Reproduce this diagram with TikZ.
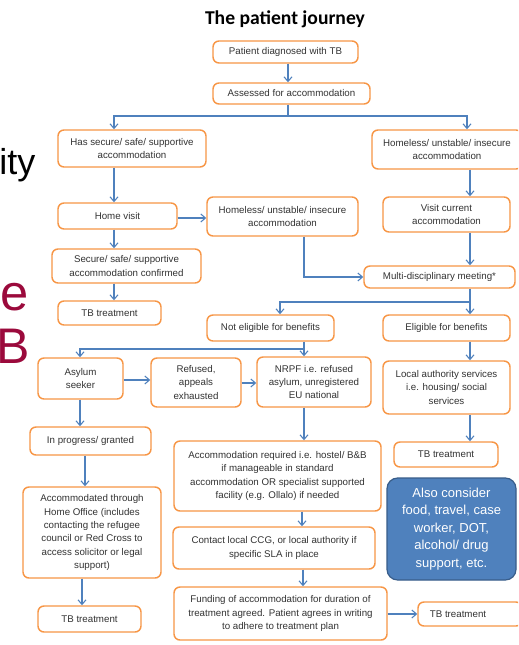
\documentclass[tikz,border=0pt]{standalone}
\usepackage{fontspec}
\setmainfont{Liberation Sans}
\newfontfamily\titlefont{Carlito}
\usetikzlibrary{arrows.meta}
\definecolor{orng}{HTML}{F79646}
\definecolor{lnblue}{HTML}{4F81BD}
\definecolor{bxblue}{HTML}{4F81BD}
\definecolor{bxedge}{HTML}{385D8A}
\definecolor{slidered}{RGB}{155,10,60}
\def\u{0.75pt}
\begin{document}
\begin{tikzpicture}[x=0.75pt,y=-0.75pt,
  box/.style={draw=orng, line width=1.1pt, rounded corners=4.5pt, fill=white, align=center, inner sep=0pt, font=\fontsize{7.3}{10}\selectfont, text=black!80},
  note/.style={draw=bxedge, fill=bxblue, line width=0.9pt, rounded corners=8pt, align=center, inner sep=0pt, font=\fontsize{9.75}{13.1}\selectfont, text=white},
  arr/.style={draw=lnblue, line width=0.8pt, -{Straight Barb[length=3.5pt,width=6pt]}},
  ln/.style={draw=lnblue, line width=0.8pt},
  slide/.style={anchor=base west, inner sep=0pt}]
\fill[white] (0,0) rectangle (518,645);
\useasboundingbox (0,0) rectangle (518,645);
\clip (0,0) rectangle (518,645);

% slide text behind
\node[slide, font=\fontsize{27}{30}\selectfont] (sl1) at (-1,175) {ity};
\node[slide, font=\fontsize{38}{40}\selectfont, text=slidered] (sl2) at (0,310) {e};
\node[slide, font=\fontsize{37.5}{40}\selectfont, text=slidered] (sl3) at (-3.5,363) {B};

% title
\node[anchor=base, font=\titlefont\bfseries\fontsize{14.7}{17}\selectfont] (title) at (285,25) {The patient journey};

% boxes
\node[box, minimum width=145*\u, minimum height=22*\u] (diag) at (285.5,52) {Patient diagnosed with TB};
\node[box, minimum width=157*\u, minimum height=21*\u] (assess) at (291.5,93.5) {Assessed for accommodation};
\node[box, minimum width=148*\u, minimum height=37*\u] (hassec) at (132,148.5) {Has secure/ safe/ supportive\\accommodation};
\node[box, minimum width=150*\u, minimum height=39*\u] (homeR) at (447,149.5) {Homeless/ unstable/ insecure\\accommodation};
\node[box, minimum width=119*\u, minimum height=26*\u] (homevisit) at (117.5,216) {Home visit};
\node[box, minimum width=151*\u, minimum height=39*\u] (homeM) at (282.5,216.5) {Homeless/ unstable/ insecure\\accommodation};
\node[box, minimum width=127*\u, minimum height=35*\u] (visit) at (446.5,214.5) {Visit current\\accommodation};
\node[box, minimum width=149*\u, minimum height=34*\u] (confirmed) at (126.5,266) {Secure/ safe/ supportive\\accommodation confirmed};
\node[box, minimum width=103*\u, minimum height=24*\u] (tbA) at (109.5,313) {TB treatment};
\node[box, minimum width=151*\u, minimum height=22*\u] (mdm) at (439.5,277) {Multi-disciplinary meeting*};
\node[box, minimum width=127*\u, minimum height=26*\u] (noteli) at (270.5,328) {Not eligible for benefits};
\node[box, minimum width=127*\u, minimum height=26*\u] (eli) at (446.5,328) {Eligible for benefits};
\node[box, minimum width=85*\u, minimum height=41*\u] (asylum) at (80.5,378.5) {Asylum\\seeker};
\node[box, minimum width=90*\u, minimum height=49*\u] (refused) at (196,382.5) {Refused,\\appeals\\exhausted};
\node[box, minimum width=114*\u, minimum height=50*\u] (nrpf) at (314,382) {NRPF i.e. refused\\asylum, unregistered\\EU national};
\node[box, minimum width=127*\u, minimum height=53*\u] (la) at (446.5,387.5) {Local authority services\\i.e. housing/ social\\services};
\node[box, minimum width=104*\u, minimum height=25*\u] (tbB) at (446,454.5) {TB treatment};
\node[box, minimum width=121*\u, minimum height=28*\u] (inprog) at (90.5,441) {In progress/ granted};
\node[box, minimum width=207*\u, minimum height=70*\u] (accreq) at (277.5,476) {Accommodation required i.e. hostel/ B\&B\\if manageable in standard\\accommodation OR specialist supported\\facility (e.g. Ollalo) if needed};
\node[box, minimum width=138*\u, minimum height=91*\u] (accom) at (92,532.5) {Accommodated through\\Home Office (includes\\contacting the refugee\\council or Red Cross to\\access solicitor or legal\\support)};
\node[box, minimum width=103*\u, minimum height=26*\u] (tbC) at (89.5,619) {TB treatment};
\node[box, minimum width=202*\u, minimum height=42*\u] (ccg) at (274,548) {Contact local CCG, or local authority if\\specific SLA in place};
\node[box, minimum width=213*\u, minimum height=53*\u] (fund) at (280.5,613.5) {Funding of accommodation for duration of\\treatment agreed. Patient agrees in writing\\to adhere to treatment plan};
\node[box, minimum width=104*\u, minimum height=24*\u] (tbD) at (470,614) {TB treatment\hspace*{18pt}};
\node[note, minimum width=129*\u, minimum height=102*\u] (also) at (451.5,529) {Also consider\\food, travel, case\\worker, DOT,\\alcohol/ drug\\support, etc.};

% connectors
\draw[arr] (diag.south -| 288,0) -- (assess.north -| 288,0);
\coordinate (s1) at (288,116);
\draw[ln] (assess.south -| s1) -- (s1);
\draw[arr] (s1) -| (hassec.north -| 114,0);
\draw[arr] (s1) -| (homeR.north -| 467,0);
\draw[arr] (hassec.south -| 114,0) -- (homevisit.north -| 114,0);
\draw[arr] (homevisit.east |- 0,218) -- (homeM.west |- 0,218);
\draw[arr] (homeR.south -| 470,0) -- (visit.north -| 470,0);
\draw[arr] (homevisit.south -| 114,0) -- (confirmed.north -| 114,0);
\draw[arr] (confirmed.south -| 114,0) -- (tbA.north -| 114,0);
\draw[arr] (homeM.south -| 304,0) |- (mdm.west);
\draw[arr] (visit.south -| 470,0) -- (mdm.north -| 470,0);
\coordinate (s2) at (470,302);
\draw[arr] (mdm.south -| s2) -- (eli.north -| s2);
\draw[arr] (s2) -| (noteli.north -| 280,0);
\coordinate (s3) at (304,349);
\draw[arr] (noteli.south -| s3) -- (nrpf.north -| s3);
\draw[arr] (s3) -| (asylum.north -| 80,0);
\draw[arr] (asylum.east |- 0,380) -- (refused.west |- 0,380);
\draw[arr] (refused.east |- 0,383) -- (nrpf.west |- 0,383);
\draw[arr] (eli.south -| 470,0) -- (la.north -| 470,0);
\draw[arr] (la.south -| 470,0) -- (tbB.north -| 470,0);
\draw[arr] (asylum.south -| 80,0) -- (inprog.north -| 80,0);
\draw[arr] (inprog.south -| 85,0) -- (accom.north -| 85,0);
\draw[arr] (accom.south -| 82,0) -- (tbC.north -| 82,0);
\draw[arr] (nrpf.south -| 304,0) -- (accreq.north -| 304,0);
\draw[arr] (accreq.south -| 302,0) -- (ccg.north -| 302,0);
\draw[arr] (ccg.south -| 303,0) -- (fund.north -| 303,0);
\draw[arr] (fund.east |- 0,614) -- (tbD.west |- 0,614);
\end{tikzpicture}
\end{document}
